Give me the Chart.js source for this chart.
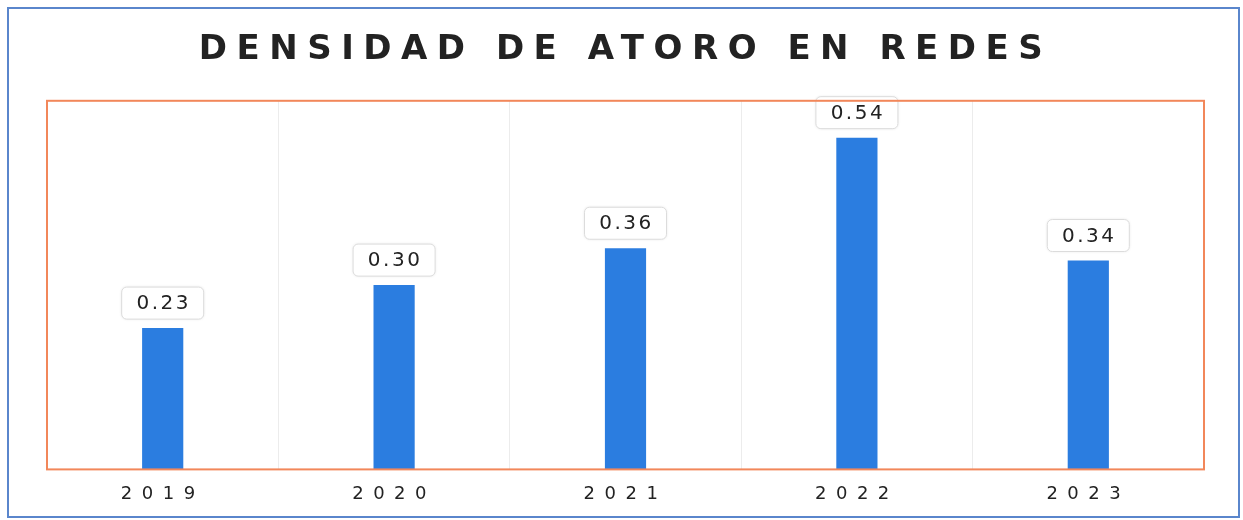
<!DOCTYPE html>
<html>
<head>
<meta charset="utf-8">
<script src="https://cdn.jsdelivr.net/npm/chart.js@4/dist/chart.umd.min.js"></script>
<style>
html,body{margin:0;padding:0;background:#fff;overflow:hidden}
</style>
</head>
<body>
<canvas id="c" width="1243" height="520"></canvas>
<script>
// data
const years=["2019","2020","2021","2022","2023"];
const density=[0.23,0.30,0.36,0.54,0.34];
const titleText="DENSIDAD DE ATORO EN REDES";

// outer blue frame + orange plot border
const frames={
  id:"frames",
  beforeDraw(chart){
    const ctx=chart.ctx;
    ctx.letterSpacing="9.5px";
    ctx.save();
    ctx.strokeStyle="#5a86cc";ctx.lineWidth=2;
    ctx.strokeRect(8,8,1231,509);
    ctx.restore();
  },
  afterDraw(chart){
    const {ctx,chartArea:a}=chart;
    ctx.save();
    ctx.strokeStyle="#f2875a";ctx.lineWidth=2;
    ctx.strokeRect(a.left,a.top,a.right-a.left,a.bottom-a.top);
    ctx.restore();
  }
};

// value boxes above the bars
const valueBoxes={
  id:"valueBoxes",
  afterDatasetsDraw(chart){
    const ctx=chart.ctx;
    const meta=chart.getDatasetMeta(0);
    ctx.save();
    ctx.letterSpacing="2.5px";
    ctx.font="20px 'DejaVu Sans'";
    ctx.textAlign="center";ctx.textBaseline="middle";
    meta.data.forEach((bar,i)=>{
      const w=82,h=32,x=bar.x-w/2,y=bar.y-9-h;
      ctx.shadowColor="rgba(0,0,0,0.12)";ctx.shadowBlur=3;
      ctx.fillStyle="#fff";
      ctx.beginPath();ctx.roundRect(x,y,w,h,5);ctx.fill();
      ctx.shadowColor="transparent";
      ctx.strokeStyle="#dcdcdc";ctx.lineWidth=1;ctx.stroke();
      ctx.fillStyle="#222";
      ctx.fillText(density[i].toFixed(2),bar.x+1,y+h/2+1);
    });
    ctx.restore();
  }
};

new Chart(document.getElementById("c"),{
  type:"bar",
  data:{labels:years,datasets:[{data:density,backgroundColor:"#2b7de0",
    barPercentage:0.178,categoryPercentage:1}]},
  options:{
    responsive:false,animation:false,
    layout:{padding:{left:47,right:39,top:0,bottom:1}},
    plugins:{
      legend:{display:false},tooltip:{enabled:false},
      title:{display:true,text:titleText,color:"#222",
        font:{family:"'DejaVu Sans'",size:34,weight:"bold"},
        padding:{top:30,bottom:30}}
    },
    scales:{
      x:{grid:{color:"#ececec",drawTicks:false,offset:true},
        border:{color:"#e2e2e2"},
        ticks:{color:"#222",font:{family:"'DejaVu Sans'",size:18},padding:14}},
      y:{display:false,min:0,max:0.6}
    }
  },
  plugins:[frames,valueBoxes]
});
</script>
</body>
</html>
